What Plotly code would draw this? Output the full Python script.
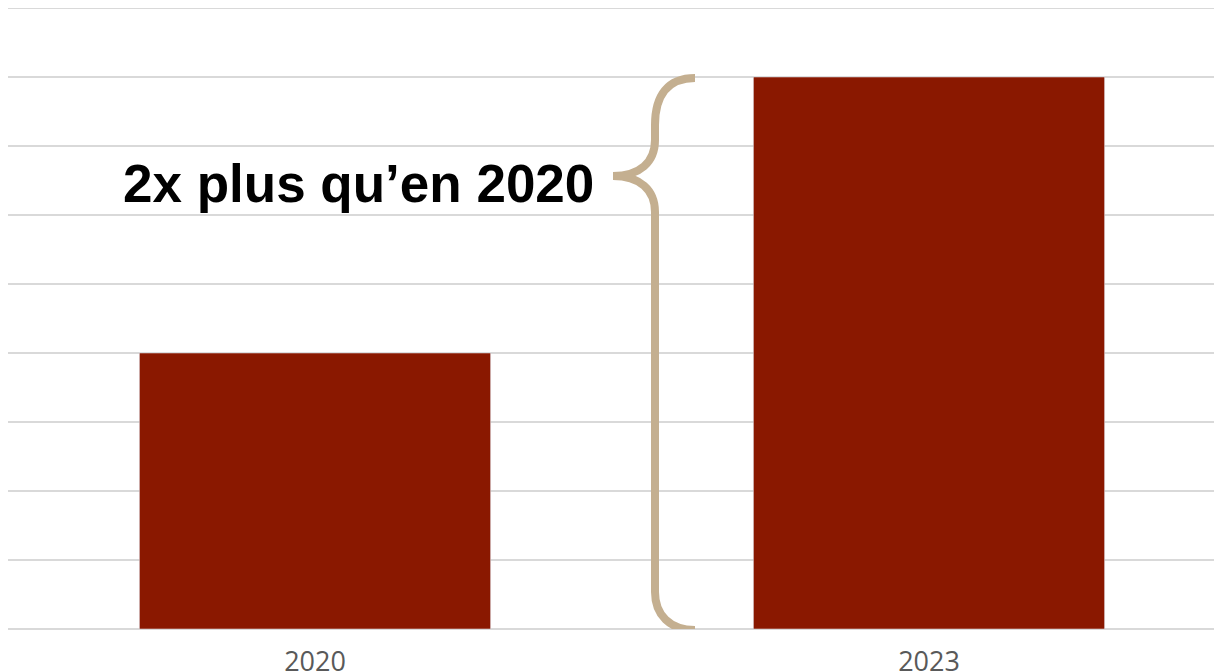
import plotly.graph_objects as go

categories = ["2020", "2023"]
values = [4, 8]
tick_labels = ["2020", "2023"]
annotation_text = "2x plus qu\u2019en 2020"

W, H = 1228, 672
L, R, T, B = 0, 0, 0, 51
PW, PH = W - L - R, H - T - B
Y_MAX = 9
CAT_PX = PW / 2.0
X0, X1 = -0.5, 1.5

# coordinates below are figure pixels (page is offset by the 8px body margin)
def px_to_x(px):
    return X0 + (px - L) / CAT_PX

def py_to_y(py):
    return (T + PH - py) / PH * Y_MAX

bar_color = "#8A1800"
brace_color = "#C4AF90"
grid_color = "#D9D9D9"

fig = go.Figure()
fig.add_trace(go.Bar(
    x=categories, y=values, marker_color=bar_color, width=0.572,
    hoverinfo="skip"
))

top_y = values[1]
def P(px, py):
    return f"{px_to_x(px):.5f},{py_to_y(py):.5f}"

y_top_px = T + PH - top_y / Y_MAX * PH
y_bot_px = T + PH
path = (
    f"M {P(687, y_top_px + 1)} "
    f"C {P(660, y_top_px + 1)} {P(647, y_top_px + 18)} {P(647, y_top_px + 48)} "
    f"L {P(647, 132)} "
    f"C {P(647, 154)} {P(632, 168)} {P(605, 168)} "
    f"C {P(632, 168)} {P(647, 182)} {P(647, 204)} "
    f"L {P(647, y_bot_px - 37)} "
    f"C {P(647, y_bot_px - 14)} {P(662, y_bot_px + 1)} {P(687, y_bot_px + 1)}"
)
fig.add_shape(type="path", path=path, xref="x", yref="y",
              line=dict(color=brace_color, width=8), layer="above")

# top gridline at the upper edge of the range
fig.add_shape(type="line", xref="paper", yref="paper", x0=0, x1=1, y0=1, y1=1,
              line=dict(color=grid_color, width=2), layer="below")

fig.add_annotation(
    x=px_to_x(588), y=py_to_y(175), xref="x", yref="y",
    text=f"<b>{annotation_text}</b>", showarrow=False,
    xanchor="right", yanchor="middle",
    font=dict(family="Liberation Sans, Arial", size=53, color="#000000")
)

fig.update_layout(
    width=W, height=H,
    margin=dict(l=L, r=R, t=T, b=B, autoexpand=False),
    plot_bgcolor="white", paper_bgcolor="white",
    showlegend=False,
)
fig.update_xaxes(
    type="category", range=[X0, X1], showgrid=False, zeroline=False,
    showline=False, ticks="", tickvals=categories, ticktext=tick_labels,
    tickfont=dict(family="Open Sans", size=27, color="#595959"),
    ticklabelstandoff=14,
)
fig.update_yaxes(
    range=[0, Y_MAX], tickvals=list(range(0, Y_MAX + 1)), showgrid=True,
    gridcolor=grid_color, gridwidth=2,
    zeroline=True, zerolinecolor=grid_color, zerolinewidth=2,
    showticklabels=False, ticks="", showline=False,
)

fig.write_html("out.html")
